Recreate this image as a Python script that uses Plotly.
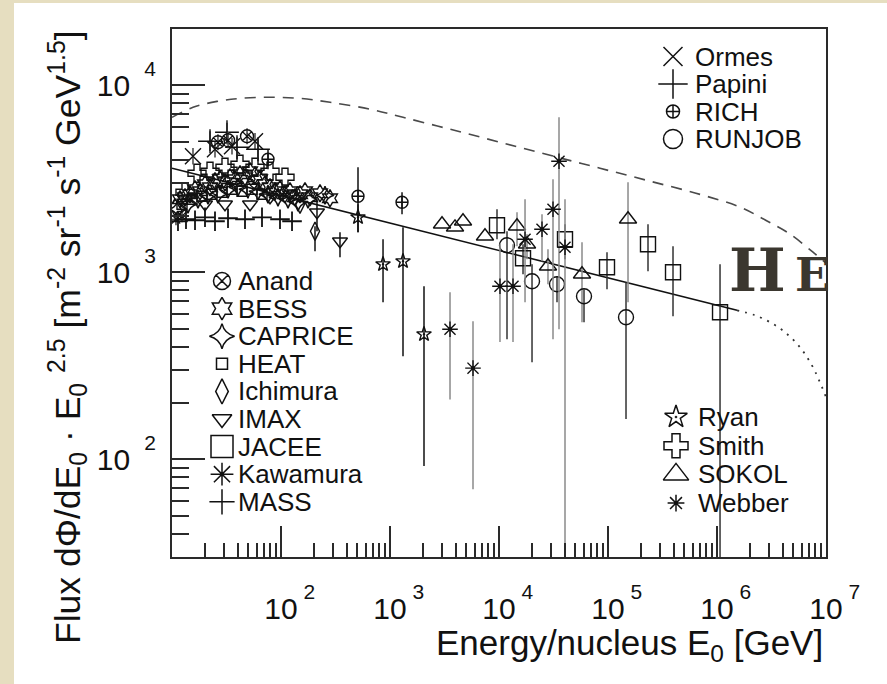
import plotly.graph_objects as go
import math

# ------------------------------------------------------------------ data
# reference curves
dash_E = [10, 15.6, 25.9, 42, 79, 149, 282, 656, 1316, 3550, 10200, 29400, 84500,
          243000, 698000, 1.63e6, 2.88e6, 4.68e6, 7.6e6, 1e7]
dash_F = [6740, 7620, 8200, 8510, 8630, 8510, 8110, 7450, 6740, 5820, 4960, 4220, 3600,
          3070, 2610, 2230, 1880, 1600, 1280, 1120]
fit_E = [10, 1.526e6]
fit_F = [3600, 626]
knee_E = [1.526e6, 2.23e6, 3.06e6, 4.2e6, 5.77e6, 7.6e6, 1e7]
knee_F = [626, 589, 541, 478, 397, 310, 215]

# experiments
anand_E = [26.4, 32.7, 48.8]
anand_F = [4960, 5080, 5340]
anand_up = [520, 540, 560]
anand_lo = [470, 480, 500]

bess_E = [10.65, 11.84, 13.16, 14.62, 16.26, 18.06, 20.08, 22.32, 24.80, 27.56, 30.63, 34.05,
          37.84, 42.06, 46.74, 51.95, 57.74, 64.17, 71.32, 79.27, 88.10, 97.90, 108.8, 120.9,
          134.4, 149.4, 166.0, 184.5, 228.0, 281.5]
bess_F = [2226, 2457, 2518, 2613, 2779, 2712, 2955, 2848, 3067, 3143, 3029, 3221,
          3143, 3343, 3221, 3468, 3301, 3143, 2955, 2848, 2712, 2779, 2613, 2712,
          2518, 2613, 2712, 2518, 2645, 2487]

caprice_E = [11.35, 14.02, 17.32, 21.39, 26.42, 32.65, 40.32, 49.80, 61.52, 75.99, 93.87,
             116.0, 143.2, 176.9, 253.3]
caprice_F = [2172, 2310, 2457, 2580, 2613, 2779, 2848, 2779, 2712, 2613, 2518,
             2457, 2367, 2457, 2580]

heat_E = [12.35, 15.26, 18.84, 23.28, 28.75, 35.52, 43.87, 54.19, 66.94]
heat_F = [2310, 2457, 2549, 2613, 2678, 2779, 2712, 2779, 2613]

ichimura_E = [149.4, 205.1]
ichimura_F = [2310, 1657]
ichimura_up = [0, 105]
ichimura_lo = [0, 362]

imax_E = [13.16, 20.08, 30.63, 51.95, 79.27, 120.9, 213.9, 347.7]
imax_F = [2457, 2310, 2310, 2310, 2518, 2613, 2094, 1465]
imax_up = [0, 0, 0, 0, 0, 0, 363, 172]
imax_lo = [0, 0, 0, 0, 0, 0, 437, 262]

jacee_E = [9587, 16610, 40320, 97910, 232800, 394800, 1.066e6]
jacee_F = [1784, 1188, 1501, 1063, 1411, 1000, 611]
jacee_up = [388, 223, 305, 216, 395, 377, 493]
jacee_lo = [283, 212, 328, 252, 398, 418, 596]

kawamura_E = [3553, 5774, 10210, 13440, 17330, 24800, 31290, 35520, 40320]
kawamura_F = [496, 307, 842, 842, 1501, 1698, 2172, 3922, 1361]
kawamura_up = [286, 240, 569, 569, 956, 345, 971, 2822, 1096]
kawamura_lo = [287, 238, 419, 419, 810, 553, 1734, 3426, 1341]

mass_E = [11.35, 13.44, 16.26, 20.08, 24.80, 32.65, 46.74, 66.94, 97.90, 126.2]
mass_F = [1874, 1921, 1897, 1968, 1874, 1945, 1921, 1968, 1921, 1874]

ormes_E = [15.58, 24.80, 35.52, 57.74]
ormes_F = [4172, 4548, 4719, 5019]
ormes_up = [450, 490, 510, 540]
ormes_lo = [400, 440, 460, 480]

papini_E = [22.32, 31.95, 39.48, 61.52]
papini_F = [5019, 5607, 4661, 4548]
papini_up = [650, 700, 610, 590]
papini_lo = [570, 640, 540, 520]

rich_E = [76.0, 508.6, 1289]
rich_F = [4019, 2549, 2367]
rich_up = [529, 1094, 311]
rich_lo = [465, 912, 324]

runjob_E = [11840, 20090, 34050, 60240, 146300]
runjob_F = [1394, 895, 863, 744, 575]
runjob_up = [263, 209, 89, 67, 309]
runjob_lo = [956, 565, 172, 204, 411]

ryan_E = [508.6, 863, 1316, 2051]
ryan_F = [1968, 1104, 1145, 466]
ryan_up = [342, 397, 595, 376]
ryan_lo = [331, 413, 790, 374]

smith_E = [13.16, 16.96, 22.32, 30.63, 42.06, 57.74, 79.27, 108.8]
smith_F = [2678, 3383, 3468, 3643, 3781, 3643, 3468, 3221]

sokol_E = [3000, 3948, 4674, 7438, 14630, 18070, 28140, 57740, 152600]
sokol_F = [1806, 1740, 1874, 1558, 1762, 1411, 1077, 976, 1921]
sokol_up = [0, 0, 0, 0, 332, 186, 250, 471, 1108]
sokol_lo = [0, 0, 0, 0, 385, 238, 214, 436, 1230]

webber_E = [10.88, 12.35]
webber_F = [1921, 1993]

# axis ticks
x_major = [1e2, 1e3, 1e4, 1e5, 1e6, 1e7]
x_exp = ["2", "3", "4", "5", "6", "7"]
y_major = [1e2, 1e3, 1e4]
y_exp = ["2", "3", "4"]

# legend texts
legend_left = ["Anand", "BESS", "CAPRICE", "HEAT", "Ichimura", "IMAX", "JACEE", "Kawamura", "MASS"]
legend_topright = ["Ormes", "Papini", "RICH", "RUNJOB"]
legend_botright = ["Ryan", "Smith", "SOKOL", "Webber"]

# ------------------------------------------------------------------ layout geometry
W, H = 887, 684
PL, PR, PT, PB = 172, 826, 29, 557  # plot area in px


def xp(px):
    return (px - PL) / (PR - PL)


def yp(py):
    return (PB - py) / (PB - PT)


FONT = "Liberation Sans, Arial, Helvetica, sans-serif"
BLACK = "#111111"
GRAY = "#8a8a8a"

fig = go.Figure()

# curves
fig.add_trace(go.Scatter(x=dash_E, y=dash_F, mode="lines", line=dict(color="#4a4a4a", width=1.6, dash="11px,8px", shape="spline")))
fig.add_trace(go.Scatter(x=fit_E, y=fit_F, mode="lines", line=dict(color=BLACK, width=1.6)))
fig.add_trace(go.Scatter(x=knee_E, y=knee_F, mode="lines", line=dict(color="#333333", width=1.8, dash="2px,6px", shape="spline")))


def add_set(E, F, symbol, size, up=None, lo=None, ecol=BLACK, lw=1.4):
    err = None
    if up is not None:
        err = dict(type="data", symmetric=False, array=up, arrayminus=lo,
                   color=ecol, thickness=1.5, width=0)
    fig.add_trace(go.Scatter(x=E, y=F, mode="markers", error_y=err,
                             marker=dict(symbol=symbol, size=size, color=BLACK,
                                         line=dict(color=BLACK, width=lw))))


add_set(mass_E, mass_F, "cross-thin-open", 14, lw=1.8)
add_set(webber_E, webber_F, "asterisk-open", 10, lw=1.2)
add_set(heat_E, heat_F, "square-open", 10)
add_set(caprice_E, caprice_F, "star-diamond-open", 13)
add_set(bess_E, bess_F, "hexagram-open", 13)
add_set(imax_E, imax_F, "triangle-down-open", 13, imax_up, imax_lo)
add_set(ichimura_E, ichimura_F, "diamond-tall-open", 13, ichimura_up, ichimura_lo)
add_set(smith_E, smith_F, "cross-open", 15)
add_set(ormes_E, ormes_F, "x-thin-open", 16, ormes_up, ormes_lo, ecol="#444444")
add_set(papini_E, papini_F, "cross-thin-open", 17, papini_up, papini_lo, ecol="#444444")
add_set(anand_E, anand_F, "circle-x-open", 13, anand_up, anand_lo, ecol="#444444")
add_set(rich_E, rich_F, "circle-cross-open", 12, rich_up, rich_lo)
add_set(ryan_E, ryan_F, "star-open-dot", 11, ryan_up, ryan_lo)
add_set(sokol_E, sokol_F, "triangle-up-open", 15, sokol_up, sokol_lo, ecol=GRAY)
add_set(jacee_E, jacee_F, "square-open", 15, jacee_up, jacee_lo, ecol="#333333")
add_set(runjob_E, runjob_F, "circle-open", 15, runjob_up, runjob_lo, ecol="#333333")
add_set(kawamura_E, kawamura_F, "asterisk-open", 13, kawamura_up, kawamura_lo, ecol=GRAY)
fig.add_trace(go.Scatter(x=kawamura_E, y=kawamura_F, mode="markers",
                         marker=dict(symbol="circle", size=4, color=BLACK)))

# ------------------------------------------------------------------ hand-made legends
leg_sym_left = [("circle-x-open", 17), ("hexagram-open", 17), ("star-diamond-open", 18),
                ("square-open", 11), ("diamond-tall-open", 18), ("triangle-down-open", 17),
                ("square-open", 22), ("asterisk-open", 19), ("cross-thin-open", 18)]
leg_sym_tr = [("x-thin-open", 19), ("cross-thin-open", 21), ("circle-cross-open", 13), ("circle-open", 19)]
leg_sym_br = [("star-open-dot", 17), ("cross-open", 20), ("triangle-up-open", 22), ("asterisk-open", 14)]

rows_left = [281 + 27.6 * i for i in range(9)]
rows_tr = [56.5 + 27.5 * i for i in range(4)]
rows_br = [417 + 28.7 * i for i in range(4)]

annotations = []


def add_legend(names, syms, rows, mx, tx):
    for name, (sym, sz), r in zip(names, syms, rows):
        fig.add_trace(go.Scatter(x=[xp(mx)], y=[yp(r)], xaxis="x2", yaxis="y2", mode="markers",
                                 cliponaxis=False,
                                 marker=dict(symbol=sym, size=sz, color=BLACK, line=dict(color=BLACK, width=1.5))))
        if name == "Kawamura":
            fig.add_trace(go.Scatter(x=[xp(mx)], y=[yp(r)], xaxis="x2", yaxis="y2", mode="markers",
                                     marker=dict(symbol="circle", size=4, color=BLACK)))
        annotations.append(dict(x=xp(tx), y=yp(r), xref="paper", yref="paper", text=name,
                                showarrow=False, xanchor="left", yanchor="middle",
                                font=dict(family=FONT, size=26, color=BLACK)))


add_legend(legend_left, leg_sym_left, rows_left, 222, 236)
add_legend(legend_topright, leg_sym_tr, rows_tr, 673, 693)
add_legend(legend_botright, leg_sym_br, rows_br, 676, 696)

# axis titles
annotations.append(dict(
    x=xp(68), y=yp(337), xref="paper", yref="paper", textangle=-90, showarrow=False,
    xanchor="center", yanchor="middle",
    text="Flux d\u03a6/dE<sub>0</sub> \u00b7 E<sub>0</sub> <sup>2.5</sup> [m<sup>-2</sup> sr<sup>-1</sup> s<sup>-1</sup> GeV<sup>1.5</sup>]",
    font=dict(family=FONT, size=35.5, color=BLACK)))
annotations.append(dict(
    x=xp(825), y=yp(645), xref="paper", yref="paper", showarrow=False,
    xanchor="right", yanchor="middle",
    text="Energy/nucleus E<sub>0</sub> [GeV]",
    font=dict(family=FONT, size=35, color=BLACK)))
# element label
annotations.append(dict(
    x=xp(727), y=yp(270), xref="paper", yref="paper", showarrow=False,
    xanchor="left", yanchor="middle",
    text='<b>H<span style="font-size:46px">\u2009E</span></b>',
    font=dict(family="DejaVu Serif, Liberation Serif, serif", size=60, color="#3b372f")))

# tick labels (exponent raised)
SUP = "font-size:21px;baseline-shift:20px"
x_ticktext = ['<span style="font-size:21px;fill:rgba(0,0,0,0)">%s\u00a0</span>10<span style="%s">\u00a0%s</span>' % (e, SUP, e) for e in x_exp]
y_ticktext = ['10\u00a0<span style="%s">\u00a0%s</span>' % (SUP, e) for e in y_exp]

x_minor = [m * 10 ** k for k in range(1, 7) for m in range(2, 10)]
y_minor = [m * 10 ** k for k in range(1, 5) for m in range(2, 10)]

AX = dict(showgrid=False, zeroline=False, showline=True, mirror=True, linecolor="#2a2a2a", linewidth=2,
          ticks="inside", tickcolor="#2a2a2a", tickwidth=1.5, automargin=False,
          tickfont=dict(family=FONT, size=30, color=BLACK))

fig.update_layout(
    width=W, height=H, margin=dict(l=PL, r=W - PR, t=PT, b=H - PB, pad=0),
    paper_bgcolor="#e6dec0", plot_bgcolor="white", showlegend=False,
    xaxis=dict(AX, type="log", range=[1, 7], tickmode="array", tickvals=x_major, ticktext=x_ticktext,
               ticklen=31, tickangle=0, ticklabelstandoff=24,
               minor=dict(tickmode="array", tickvals=x_minor, ticks="inside", ticklen=14,
                          tickcolor="#2a2a2a", tickwidth=1.5, showgrid=False)),
    yaxis=dict(AX, type="log", range=[math.log10(30), math.log10(2e4)], tickmode="array",
               tickvals=y_major, ticktext=y_ticktext, ticklen=33, ticklabelstandoff=8,
               minor=dict(tickmode="array", tickvals=y_minor, ticks="inside", ticklen=17,
                          tickcolor="#2a2a2a", tickwidth=1.5, showgrid=False)),
    xaxis2=dict(overlaying="x", anchor="y2", range=[0, 1], visible=False, fixedrange=True),
    yaxis2=dict(overlaying="y", anchor="x2", range=[0, 1], visible=False, fixedrange=True),
    annotations=annotations,
    shapes=[dict(type="rect", xref="paper", yref="paper", layer="below",
                 x0=xp(14), x1=xp(W + 5), y0=yp(H + 5), y1=yp(3),
                 fillcolor="white", line=dict(width=0))],
)

fig.write_html("out.html")
